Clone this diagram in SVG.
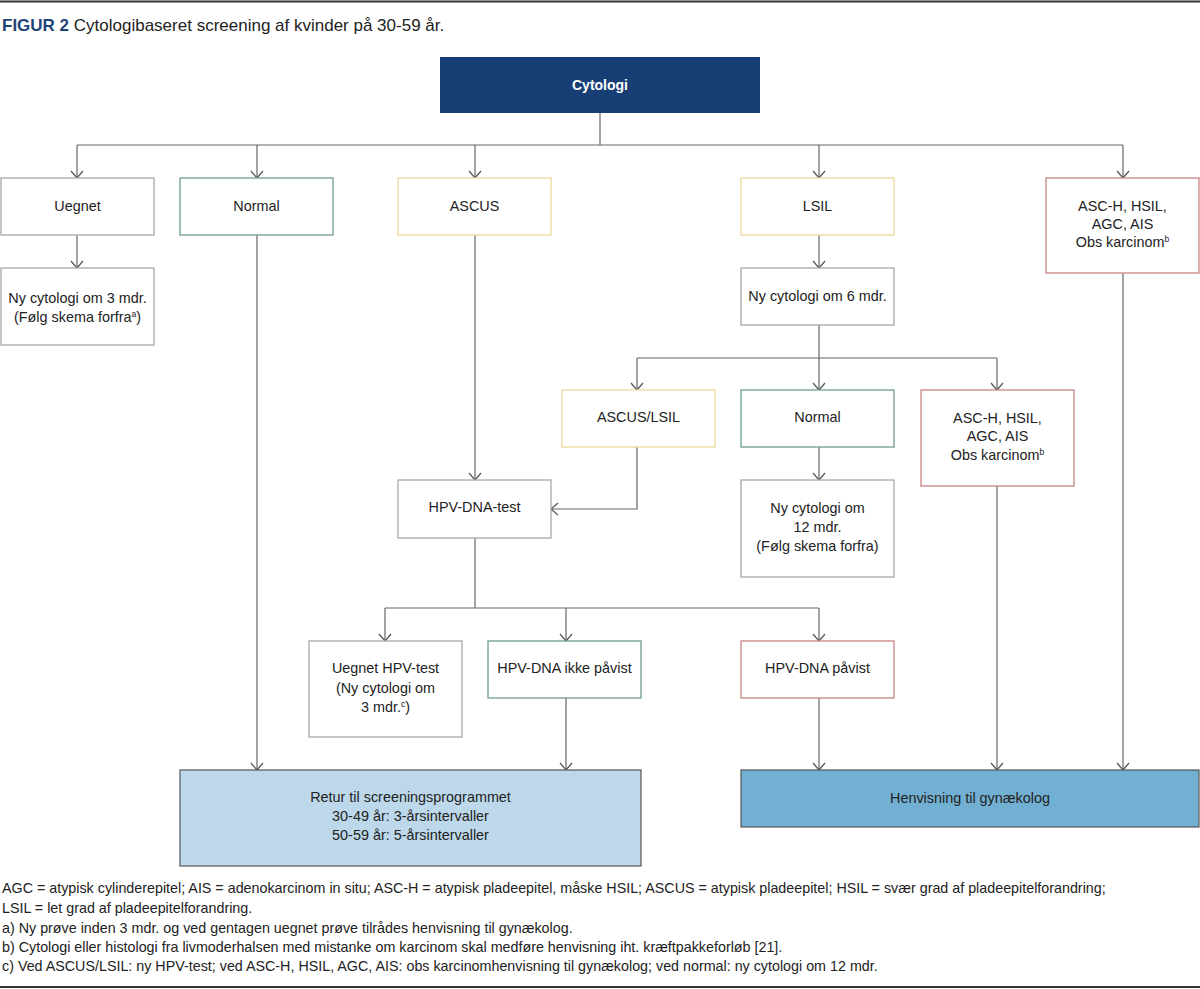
<svg xmlns="http://www.w3.org/2000/svg" width="1200" height="989" viewBox="0 0 1200 989">
<defs>
<marker id="arr" viewBox="0 0 14 14" refX="12" refY="7" markerWidth="14" markerHeight="14" markerUnits="userSpaceOnUse" orient="auto">
<path d="M5,1 L12,7 L5,13" fill="none" stroke="#555" stroke-width="1.2"/>
</marker>
</defs>
<style>
text{font-family:"Liberation Sans",Arial,sans-serif;fill:#222;}
.t{font-size:14.4px;text-anchor:middle;}
.fn{font-size:14.3px;}
.box{fill:#fff;stroke-width:1.3;}
.gray{stroke:#a8a8a8;}
.green{stroke:#6f9f8a;}
.yellow{stroke:#efd999;}
.red{stroke:#c98585;}
.c{fill:none;stroke:#666;stroke-width:1.2;}
.ca{fill:none;stroke:#666;stroke-width:1.2;marker-end:url(#arr);}
.sup{font-size:8.5px;}
</style>
<rect width="1200" height="989" fill="#fff"/>
<line x1="0" y1="1.5" x2="1200" y2="1.5" stroke="#333" stroke-width="2"/>
<line x1="0" y1="987" x2="1200" y2="987" stroke="#333" stroke-width="2"/>
<text x="2" y="31" style="font-size:17px"><tspan style="font-weight:bold;fill:#1f4477">FIGUR 2</tspan> Cytologibaseret screening af kvinder på 30-59 år.</text>

<g id="connectors">
<polyline class="c" points="600,113 600,145"/>
<line class="c" x1="77" y1="145" x2="1123" y2="145"/>
<line class="ca" x1="77" y1="145" x2="77" y2="178"/>
<line class="ca" x1="257" y1="145" x2="257" y2="178"/>
<line class="ca" x1="475" y1="145" x2="475" y2="178"/>
<line class="ca" x1="819" y1="145" x2="819" y2="178"/>
<line class="ca" x1="1123" y1="145" x2="1123" y2="178"/>
<line class="ca" x1="77" y1="235" x2="77" y2="268"/>
<line class="ca" x1="819" y1="235" x2="819" y2="268"/>
<line class="c" x1="819" y1="325" x2="819" y2="358"/>
<line class="c" x1="637" y1="358" x2="997" y2="358"/>
<line class="ca" x1="637" y1="358" x2="637" y2="390"/>
<line class="ca" x1="819" y1="358" x2="819" y2="390"/>
<line class="ca" x1="997" y1="358" x2="997" y2="390"/>
<line class="ca" x1="819" y1="447" x2="819" y2="480"/>
<line class="ca" x1="475" y1="235" x2="475" y2="480"/>
<polyline class="ca" points="637,447 637,509 551,509"/>
<line class="c" x1="475" y1="538" x2="475" y2="608"/>
<line class="c" x1="385" y1="608" x2="819" y2="608"/>
<line class="ca" x1="385" y1="608" x2="385" y2="641"/>
<line class="ca" x1="566" y1="608" x2="566" y2="641"/>
<line class="ca" x1="819" y1="608" x2="819" y2="641"/>
<line class="ca" x1="257" y1="235" x2="257" y2="770"/>
<line class="ca" x1="566" y1="698" x2="566" y2="770"/>
<line class="ca" x1="819" y1="698" x2="819" y2="770"/>
<line class="ca" x1="997" y1="486" x2="997" y2="770"/>
<line class="ca" x1="1123" y1="273" x2="1123" y2="770"/>
</g>

<g id="cytologi">
<rect x="440" y="57" width="320" height="56" fill="#173e75"/>
<text class="t" x="600" y="90" style="fill:#fff;font-weight:bold;font-size:14px">Cytologi</text>
</g>
<g id="uegnet">
<rect class="box gray" x="1" y="178" width="153" height="57"/>
<text class="t" x="77.5" y="211">Uegnet</text>
</g>
<g id="normal1">
<rect class="box green" x="180" y="178" width="153" height="57"/>
<text class="t" x="256.5" y="211">Normal</text>
</g>
<g id="ascus">
<rect class="box yellow" x="398" y="178" width="153" height="57"/>
<text class="t" x="474.5" y="211">ASCUS</text>
</g>
<g id="lsil">
<rect class="box yellow" x="741" y="178" width="153" height="57"/>
<text class="t" x="817.5" y="211">LSIL</text>
</g>
<g id="aschigh1">
<rect class="box red" x="1046" y="178" width="153" height="95"/>
<text class="t" x="1122.5" y="211">ASC-H, HSIL,</text>
<text class="t" x="1122.5" y="229">AGC, AIS</text>
<text class="t" x="1122.5" y="247">Obs karcinom<tspan class="sup" dy="-5">b</tspan></text>
</g>
<g id="ny3">
<rect class="box gray" x="1" y="268" width="153" height="77"/>
<text class="t" x="77.5" y="303">Ny cytologi om 3 mdr.</text>
<text class="t" x="77.5" y="322">(Følg skema forfra<tspan class="sup" dy="-5">a</tspan><tspan dy="5">)</tspan></text>
</g>
<g id="ny6">
<rect class="box gray" x="741" y="268" width="153" height="57"/>
<text class="t" x="817.5" y="301">Ny cytologi om 6 mdr.</text>
</g>
<g id="ascuslsil">
<rect class="box yellow" x="562" y="390" width="153" height="57"/>
<text class="t" x="638.5" y="422">ASCUS/LSIL</text>
</g>
<g id="normal2">
<rect class="box green" x="741" y="390" width="153" height="57"/>
<text class="t" x="817.5" y="422">Normal</text>
</g>
<g id="aschigh2">
<rect class="box red" x="921" y="390" width="153" height="96"/>
<text class="t" x="997.5" y="423">ASC-H, HSIL,</text>
<text class="t" x="997.5" y="441">AGC, AIS</text>
<text class="t" x="997.5" y="460">Obs karcinom<tspan class="sup" dy="-5">b</tspan></text>
</g>
<g id="hpvtest">
<rect class="box gray" x="398" y="480" width="153" height="58"/>
<text class="t" x="474.5" y="512">HPV-DNA-test</text>
</g>
<g id="ny12">
<rect class="box gray" x="741" y="480" width="153" height="97"/>
<text class="t" x="817.5" y="513">Ny cytologi om</text>
<text class="t" x="817.5" y="532">12 mdr.</text>
<text class="t" x="817.5" y="551">(Følg skema forfra)</text>
</g>
<g id="uegnethpv">
<rect class="box gray" x="309" y="641" width="153" height="96"/>
<text class="t" x="385.5" y="673">Uegnet HPV-test</text>
<text class="t" x="385.5" y="693">(Ny cytologi om</text>
<text class="t" x="385.5" y="712">3 mdr.<tspan class="sup" dy="-5">c</tspan><tspan dy="5">)</tspan></text>
</g>
<g id="ikkepavist">
<rect class="box green" x="488" y="641" width="153" height="57"/>
<text class="t" x="564.5" y="673">HPV-DNA ikke påvist</text>
</g>
<g id="pavist">
<rect class="box red" x="741" y="641" width="153" height="57"/>
<text class="t" x="817.5" y="673">HPV-DNA påvist</text>
</g>
<g id="retur">
<rect x="180" y="770" width="461" height="96" fill="#bcd8ea" stroke="#555" stroke-width="1.2"/>
<text class="t" x="410.5" y="802">Retur til screeningsprogrammet</text>
<text class="t" x="410.5" y="821">30-49 år: 3-årsintervaller</text>
<text class="t" x="410.5" y="840">50-59 år: 5-årsintervaller</text>
</g>
<g id="henvisning">
<rect x="741" y="770" width="458" height="57" fill="#72b0d3" stroke="#555" stroke-width="1.2"/>
<text class="t" x="970" y="803">Henvisning til gynækolog</text>
</g>

<g id="footnotes">
<text class="fn" x="2" y="893">AGC = atypisk cylinderepitel; AIS = adenokarcinom in situ; ASC-H = atypisk pladeepitel, måske HSIL; ASCUS = atypisk pladeepitel; HSIL = svær grad af pladeepitelforandring;</text>
<text class="fn" x="2" y="913">LSIL = let grad af pladeepitelforandring.</text>
<text class="fn" x="2" y="933">a) Ny prøve inden 3 mdr. og ved gentagen uegnet prøve tilrådes henvisning til gynækolog.</text>
<text class="fn" x="2" y="952">b) Cytologi eller histologi fra livmoderhalsen med mistanke om karcinom skal medføre henvisning iht. kræftpakkeforløb [21].</text>
<text class="fn" x="2" y="971">c) Ved ASCUS/LSIL: ny HPV-test; ved ASC-H, HSIL, AGC, AIS: obs karcinomhenvisning til gynækolog; ved normal: ny cytologi om 12 mdr.</text>
</g>
</svg>
